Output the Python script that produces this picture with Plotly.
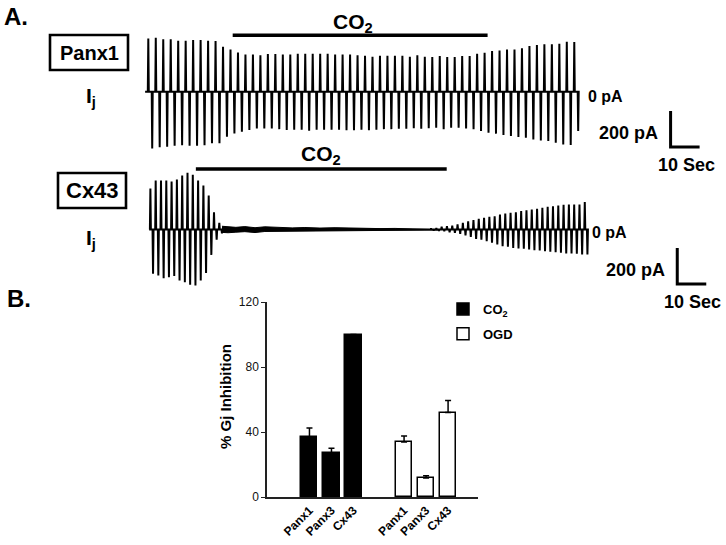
import plotly.graph_objects as go

W, H = 726, 545
FONT = "Liberation Sans, Arial, sans-serif"

# ------------------------------------------------------------------ data
# Panel A, Panx1 recording: junctional current pulses (pA), one pair per pulse
PANX1_PERIOD_S = 2.577
PANX1_DOWN_DELAY_S = 1.35
panx1_up_pA = [296, 300, 291, 291, 283, 283, 287, 287, 283, 281, 250, 235, 218, 207, 207, 203, 209, 209, 207,
               207, 211, 211, 211, 211, 211, 207, 207, 207, 203, 200, 194, 200, 200, 200, 200, 194, 203, 194, 193,
               198, 193, 193, 198, 198, 211, 217, 226, 229, 235, 235, 241, 254, 259, 263, 263, 267, 278, 276]
panx1_down_pA = [315, 309, 306, 300, 297, 300, 300, 297, 287, 287, 250, 232, 222, 213, 204, 204, 204, 208, 213,
                 211, 211, 217, 211, 211, 211, 211, 214, 214, 211, 214, 211, 208, 208, 206, 206, 203, 206, 203, 200,
                 209, 200, 200, 204, 209, 218, 228, 233, 241, 246, 252, 256, 265, 271, 274, 283, 293, 296, 218]
panx1_trace_span_s = [-1.1, 147.8]
panx1_co2_s = [29.1, 117.0]

# Panel A, Cx43 recording
CX43_PERIOD_S = 1.828
cx43_early_start_s = 0.72
cx43_early_up_pA = [228, 272, 272, 272, 267, 278, 300, 315, 304, 272, 244, 189, 96, 37, 17, 8]
cx43_early_down_pA = [246, 256, 271, 265, 259, 283, 293, 307, 311, 283, 241, 141, 56, 22, 14, 8]
cx43_late_start_s = 97.5
cx43_late_up_pA = [6, 8, 15, 18, 22, 28, 37, 46, 52, 59, 65, 71, 74, 83, 89, 93, 96, 102, 107, 111,
                   115, 121, 126, 129, 133, 137, 139, 139, 139, 152]
cx43_late_down_pA = [6, 8, 9, 15, 18, 24, 33, 41, 52, 56, 65, 74, 83, 93, 96, 102, 106, 107, 111, 115,
                     117, 121, 124, 126, 129, 133, 133, 135, 139, 139]
cx43_noise_t_s = [25.4, 27.5, 30.2, 33.3, 36.8, 40.2, 44.7, 49.6, 54.0, 59.2, 64.4, 69.6, 74.7, 79.9,
                  85.1, 90.2, 95.4, 100.6]
cx43_noise_hi_pA = [18, 16, 12, 16, 10, 15, 12, 9, 11, 8, 10, 7, 6, 5, 6, 4, 4, 2]
cx43_noise_lo_pA = [16, 18, 15, 12, 17, 11, 14, 12, 9, 11, 8, 9, 6, 7, 5, 4, 3, 2]
cx43_trace_span_s = [0.3, 151.5]
cx43_co2_s = [16.4, 102.9]

SCALE_PA = 200
SCALE_S = 10
panx1_scalebar_at = [180.1, -307]
cx43_scalebar_at = [182.4, -303]

# Panel B
bar_categories = ["Panx1", "Panx3", "Cx43"]
co2_inhib = [37, 27, 100]
co2_err = [5.5, 3, 0]
ogd_inhib = [33.8, 11.7, 52]
ogd_err = [3.7, 1.4, 7.4]
y_ticks = [0, 40, 80, 120]
GROUP_GAP = 4.3


# ------------------------------------------------------------------ helpers
def px(x):
    return x / W


def py(y):
    return 1 - y / H


def pulse_train(start, period, ups, downs, delay, half=0.17):
    xs, ys = [], []
    for i, (u, d) in enumerate(zip(ups, downs)):
        t = start + i * period
        xs += [t - half, t, t + half, t + delay - half, t + delay, t + delay + half]
        ys += [0, u, 0, 0, -d, 0]
    return xs, ys


fig = go.Figure()

# Panx1 trace
px1_x, px1_y = pulse_train(0.0, PANX1_PERIOD_S, panx1_up_pA, panx1_down_pA, PANX1_DOWN_DELAY_S)
px1_x = [panx1_trace_span_s[0]] + px1_x + [panx1_trace_span_s[1]]
px1_y = [0] + px1_y + [0]
fig.add_trace(go.Scatter(x=px1_x, y=px1_y, mode="lines", line=dict(color="black", width=2),
                         xaxis="x", yaxis="y", showlegend=False, hoverinfo="skip"))

# Cx43 trace
e_x, e_y = pulse_train(cx43_early_start_s, CX43_PERIOD_S, cx43_early_up_pA, cx43_early_down_pA,
                       CX43_PERIOD_S / 2)
l_x, l_y = pulse_train(cx43_late_start_s, CX43_PERIOD_S, cx43_late_up_pA, cx43_late_down_pA,
                       CX43_PERIOD_S / 2)
cx_x = [cx43_trace_span_s[0]] + e_x + l_x + [cx43_trace_span_s[1]]
cx_y = [0] + e_y + l_y + [0]
fig.add_trace(go.Scatter(x=cx_x, y=cx_y, mode="lines", line=dict(color="black", width=2),
                         xaxis="x2", yaxis="y2", showlegend=False, hoverinfo="skip"))
band_x = cx43_noise_t_s + cx43_noise_t_s[::-1]
band_y = cx43_noise_hi_pA + [-v for v in cx43_noise_lo_pA][::-1]
fig.add_trace(go.Scatter(x=band_x, y=band_y, mode="lines", fill="toself", fillcolor="black",
                         line=dict(color="black", width=1), xaxis="x2", yaxis="y2",
                         showlegend=False, hoverinfo="skip"))

# Panel B bars
co2_x = [i for i in range(len(bar_categories))]
ogd_x = [i + GROUP_GAP for i in range(len(bar_categories))]
fig.add_trace(go.Bar(x=co2_x, y=co2_inhib, name="CO<sub>2</sub>", width=0.73, legendgroup="co2",
                     marker=dict(color="black", line=dict(color="black", width=1.5)),
                     error_y=dict(type="data", array=co2_err, arrayminus=[0] * 3, symmetric=False,
                                  color="black", thickness=1.5, width=3),
                     xaxis="x3", yaxis="y3"))
fig.add_trace(go.Bar(x=ogd_x, y=ogd_inhib, name="OGD", width=0.73, legendgroup="ogd",
                     marker=dict(color="white", line=dict(color="black", width=1.5)),
                     error_y=dict(type="data", array=ogd_err, arrayminus=[0] * 3, symmetric=False,
                                  color="black", thickness=1.5, width=3),
                     xaxis="x3", yaxis="y3"))

# ------------------------------------------------------------------ layout
TRACE_X_DOMAIN = [px(140), px(712)]
TRACE_X_RANGE = [-2.862, 194.38]
hidden = dict(visible=False, showgrid=False, zeroline=False, fixedrange=True, automargin=False)

shapes = []
# CO2 application bars
shapes.append(dict(type="line", xref="x", yref="y", x0=panx1_co2_s[0], x1=panx1_co2_s[1],
                   y0=313, y1=313, line=dict(color="black", width=3.5)))
shapes.append(dict(type="line", xref="x2", yref="y2", x0=cx43_co2_s[0], x1=cx43_co2_s[1],
                   y0=336, y1=336, line=dict(color="black", width=3.5)))
# scale bars
for xr, yr, (t0, y0) in (("x", "y", panx1_scalebar_at), ("x2", "y2", cx43_scalebar_at)):
    shapes.append(dict(type="path", xref=xr, yref=yr,
                       path=f"M{t0},{y0 + SCALE_PA} L{t0},{y0} L{t0 + SCALE_S},{y0}",
                       line=dict(color="black", width=3)))
# label boxes
shapes.append(dict(type="rect", xref="paper", yref="paper", x0=px(50), x1=px(128), y0=py(70), y1=py(35),
                   line=dict(color="black", width=2.6)))
shapes.append(dict(type="rect", xref="paper", yref="paper", x0=px(58), x1=px(126), y0=py(208), y1=py(173),
                   line=dict(color="black", width=2.6)))


def ann(text, x, y, size, xanchor="center", angle=0, weight="bold"):
    return dict(text=text, x=px(x), y=py(y), xref="paper", yref="paper", showarrow=False,
                xanchor=xanchor, yanchor="middle", textangle=angle,
                font=dict(family=FONT, size=size, color="black", weight=weight))


annotations = [
    ann("A.", 16, 16, 24),
    ann("B.", 19, 298, 24),
    ann("Panx1", 89, 53, 20),
    ann("I<sub>j</sub>", 91, 97, 21),
    ann("CO<sub>2</sub>", 353, 23, 21),
    ann("0 pA", 586, 96, 16, "left"),
    ann("200 pA", 660, 133, 18, "right"),
    ann("10 Sec", 686, 165, 18),
    ann("Cx43", 92, 190, 22),
    ann("I<sub>j</sub>", 91, 239, 21),
    ann("CO<sub>2</sub>", 321, 155, 21),
    ann("0 pA", 590, 233, 16, "left"),
    ann("200 pA", 667, 270, 18, "right"),
    ann("10 Sec", 692, 302, 18),
    ann("% Gj Inhibition", 225, 397, 15, angle=-90),
]

fig.update_layout(
    width=W, height=H, margin=dict(l=0, r=0, t=0, b=0, autoexpand=False),
    paper_bgcolor="white", plot_bgcolor="white",
    font=dict(family=FONT, color="black"),
    bargap=0,
    xaxis=dict(domain=TRACE_X_DOMAIN, range=TRACE_X_RANGE, anchor="y", **hidden),
    yaxis=dict(domain=[py(160), py(28)], range=[-379.5, 353.9], anchor="x", **hidden),
    xaxis2=dict(domain=TRACE_X_DOMAIN, range=TRACE_X_RANGE, anchor="y2", **hidden),
    yaxis2=dict(domain=[py(300), py(160)], range=[-391.7, 386.1], anchor="x2", **hidden),
    xaxis3=dict(domain=[px(267), px(478)], range=[-1.93, 7.66], anchor="y3", automargin=False,
                tickvals=co2_x + ogd_x, ticktext=bar_categories * 2, tickangle=-45,
                tickfont=dict(family=FONT, size=12, color="black", weight="bold"),
                showline=True, linecolor="#222", linewidth=1.5, ticks="",
                showgrid=False, zeroline=False, fixedrange=True),
    yaxis3=dict(domain=[py(497), py(302)], range=[0, 120], anchor="x3", automargin=False,
                tickvals=y_ticks, ticks="outside", ticklen=4, tickwidth=1.2, tickcolor="#222",
                tickfont=dict(family=FONT, size=12, color="#111"),
                showline=True, linecolor="#222", linewidth=1.5,
                showgrid=False, zeroline=False, fixedrange=True),
    legend=dict(x=px(443), y=py(294), xanchor="left", yanchor="top",
                font=dict(family=FONT, size=13, color="black", weight="bold"),
                bgcolor="rgba(0,0,0,0)", tracegroupgap=5, traceorder="grouped"),
    shapes=shapes,
    annotations=annotations,
)

fig.write_html("out.html", config={"displayModeBar": False},
               post_script="document.body.style.margin='0';")
